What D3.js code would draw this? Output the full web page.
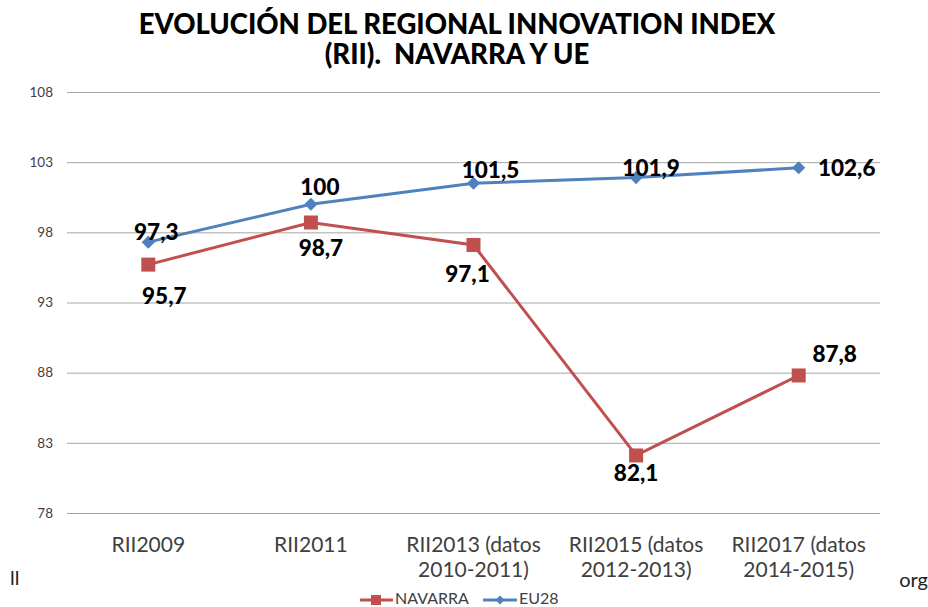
<!DOCTYPE html>
<html><head><meta charset="utf-8">
<script src="https://cdn.jsdelivr.net/npm/d3@7"></script>
<style>body{margin:0;background:#fff}svg{display:block}text{white-space:pre}</style>
</head><body>
<script>
const categories = [["RII2009"],["RII2011"],["RII2013 (datos","2010-2011)"],["RII2015 (datos","2012-2013)"],["RII2017 (datos","2014-2015)"]];
const navarra = [95.7, 98.7, 97.1, 82.1, 87.8];
const eu28 = [97.3, 100, 101.5, 101.9, 102.6];
const navarraLabels = ["95,7","98,7","97,1","82,1","87,8"];
const eu28Labels = ["97,3","100","101,5","101,9","102,6"];
const yTicks = [78, 83, 88, 93, 98, 103, 108];
const titleLines = ["EVOLUCIÓN DEL REGIONAL INNOVATION INDEX","(RII).  NAVARRA Y UE"];
const seriesNames = ["NAVARRA","EU28"];

const W = 928, H = 607;
const FONT = "Lato, 'Open Sans', sans-serif";
const RED = "#C0504D", BLUE = "#4F81BD";
const svg = d3.select("body").append("svg").attr("width", W).attr("height", H);

const x = d3.scaleBand().domain(d3.range(categories.length)).range([67, 880]);
const y = d3.scaleLinear().domain([78, 108]).range([513, 92]);
const cx = i => x(i) + x.bandwidth() / 2;

// title
svg.append("g").selectAll("text").data(titleLines).join("text")
  .attr("x", 457).attr("y", (d, i) => 34 + i * 30)
  .attr("text-anchor", "middle").attr("font-family", FONT).attr("font-weight", 900)
  .attr("font-size", 27.5).attr("fill", "#000").text(d => d);

// grid
const yAxis = d3.axisLeft(y).tickValues(yTicks).tickSize(-(880 - 67)).tickPadding(14);
const gy = svg.append("g").attr("transform", "translate(67,0)").call(yAxis);
gy.select(".domain").remove();
gy.selectAll(".tick line").attr("stroke", "#a6a6a6").attr("stroke-width", 1);
gy.selectAll(".tick text").attr("font-family", FONT).attr("font-size", 13.5).attr("fill", "#404040");

// category labels
const gx = svg.append("g");
categories.forEach((lines, i) => {
  gx.append("text").attr("x", cx(i)).attr("y", 552).attr("text-anchor", "middle")
    .attr("font-family", FONT).attr("font-size", 21).attr("fill", "#404040")
    .selectAll("tspan").data(lines).join("tspan")
    .attr("x", cx(i)).attr("dy", (d, k) => k === 0 ? 0 : 25).text(d => d);
});

// lines
const line = d3.line().x((d, i) => cx(i)).y(d => y(d));
svg.append("path").datum(navarra).attr("d", line).attr("fill", "none").attr("stroke", RED).attr("stroke-width", 3);
svg.append("path").datum(eu28).attr("d", line).attr("fill", "none").attr("stroke", BLUE).attr("stroke-width", 3);

// markers
svg.append("g").selectAll("rect").data(navarra).join("rect")
  .attr("x", (d, i) => cx(i) - 7).attr("y", d => y(d) - 7).attr("width", 14).attr("height", 14).attr("fill", RED);
const diamond = d3.symbol().type(d3.symbolDiamond2).size(110);
svg.append("g").selectAll("path").data(eu28).join("path")
  .attr("d", diamond).attr("transform", (d, i) => `translate(${cx(i)},${y(d)})`).attr("fill", BLUE);

// data labels (offsets relative to marker)
const navOff = [[16, 39], [10, 33], [-6, 37], [0, 26], [36, -13]];
const euOff = [[8, -2], [9, -9], [17, -5], [15, -2], [48, 8]];
const lab = svg.append("g").attr("font-family", FONT).attr("font-weight", 900).attr("font-size", 22.5)
  .attr("fill", "#000").attr("text-anchor", "middle");
navarra.forEach((v, i) => lab.append("text").attr("x", cx(i) + navOff[i][0]).attr("y", y(v) + navOff[i][1]).text(navarraLabels[i]));
eu28.forEach((v, i) => lab.append("text").attr("x", cx(i) + euOff[i][0]).attr("y", y(v) + euOff[i][1]).text(eu28Labels[i]));

// stray text fragments at bottom edges
svg.append("text").attr("x", 10).attr("y", 585).attr("font-family", FONT).attr("font-size", 20).attr("fill", "#222").text("ll");
svg.append("text").attr("x", 928).attr("y", 587).attr("text-anchor", "end").attr("font-family", FONT).attr("font-size", 20).attr("fill", "#222").text("org");

// legend
const leg = svg.append("g");
leg.append("line").attr("x1", 360).attr("x2", 393).attr("y1", 600).attr("y2", 600).attr("stroke", RED).attr("stroke-width", 3);
leg.append("rect").attr("x", 371).attr("y", 595).attr("width", 10).attr("height", 10).attr("fill", RED);
leg.append("text").attr("x", 395).attr("y", 604).attr("font-family", FONT).attr("font-size", 16).attr("fill", "#404040").text(seriesNames[0]);
leg.append("line").attr("x1", 483).attr("x2", 517).attr("y1", 600).attr("y2", 600).attr("stroke", BLUE).attr("stroke-width", 3);
leg.append("path").attr("d", d3.symbol().type(d3.symbolDiamond2).size(50)).attr("transform", "translate(500,600)").attr("fill", BLUE);
leg.append("text").attr("x", 519).attr("y", 604).attr("font-family", FONT).attr("font-size", 16).attr("fill", "#404040").text(seriesNames[1]);
</script>
</body></html>
